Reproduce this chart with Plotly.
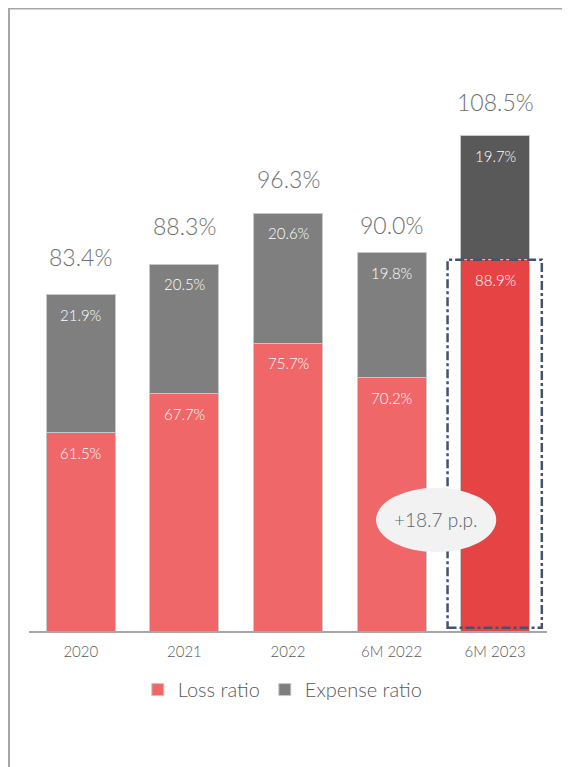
import plotly.graph_objects as go

categories = ["2020", "2021", "2022", "6M 2022", "6M 2023"]
loss_ratio = [61.5, 67.7, 75.7, 70.2, 88.9]
expense_ratio = [21.9, 20.5, 20.6, 19.8, 19.7]
combined_ratio = [83.4, 88.3, 96.3, 90.0, 108.5]
change_label = "+18.7 p.p."

loss_colors = ["#EF6769", "#EF6769", "#EF6769", "#EF6769", "#E64345"]
exp_colors = ["#7F7F7F", "#7F7F7F", "#7F7F7F", "#7F7F7F", "#595959"]
total_shift = [22, 22, 18, 12, 18]

FONT = "Lato"
W = 300

fig = go.Figure()
fig.add_trace(go.Bar(
    x=categories, y=loss_ratio, name="Loss ratio",
    marker=dict(color=loss_colors, line=dict(color="#C8C8C8", width=1)),
    hoverinfo="skip",
))
fig.add_trace(go.Bar(
    x=categories, y=expense_ratio, name="Expense ratio",
    marker=dict(color=exp_colors, line=dict(color="#C8C8C8", width=1)),
    hoverinfo="skip",
))

ann = []
for i, c in enumerate(categories):
    ann.append(dict(x=i, y=loss_ratio[i], text=f"{loss_ratio[i]:.1f}%", showarrow=False,
                    yanchor="top", yshift=-9,
                    font=dict(family=FONT, size=15, color="white", weight=W)))
    ann.append(dict(x=i, y=combined_ratio[i], text=f"{expense_ratio[i]:.1f}%", showarrow=False,
                    yanchor="top", yshift=-9,
                    font=dict(family=FONT, size=15, color="white", weight=W)))
    ann.append(dict(x=i, y=combined_ratio[i], text=f"{combined_ratio[i]:.1f}%", showarrow=False,
                    yanchor="bottom", yshift=total_shift[i],
                    font=dict(family=FONT, size=23, color="#707070", weight=W)))

# plot area: 518 x 601 px, origin at (21, 22) in figure px
shapes = [
    # dash-dot highlight box around 6M 2023 loss ratio
    dict(type="rect", xref="x", yref="y", x0=3.54, x1=4.45, y0=30.6, y1=loss_ratio[4],
         line=dict(color="#44546A", width=2.5, dash="dashdot"), layer="above"),
    # ellipse callout
    dict(type="circle", xref="x", yref="y", x0=2.85, x1=4.01, y0=42.6, y1=52.8,
         fillcolor="#F2F2F2", line=dict(width=0), layer="above"),
    # frame lines
    dict(type="line", xref="paper", yref="paper", x0=-0.0386, x1=-0.0386, y0=1.0358, y1=-0.3,
         line=dict(color="#A6A6A6", width=2)),
    dict(type="line", xref="paper", yref="paper", x0=-0.0405, x1=1.1, y0=1.0358, y1=1.0358,
         line=dict(color="#A6A6A6", width=2)),
]
ann.append(dict(x=3.43, y=47.7, xref="x", yref="y", text=change_label, showarrow=False,
                font=dict(family=FONT, size=19, color="#5A6270", weight=W)))

fig.update_layout(
    width=562, height=759,
    margin=dict(l=21, r=23, t=22, b=136),
    barmode="stack", bargap=0.334,
    plot_bgcolor="white", paper_bgcolor="white",
    showlegend=True,
    legend=dict(orientation="h", x=0.49, xanchor="center", y=-0.065, yanchor="top",
                font=dict(family=FONT, size=20, color="#595959", weight=W),
                traceorder="normal"),
    xaxis=dict(type="category", range=[-0.5, 4.5], showline=True, linecolor="#A6A6A6",
               linewidth=2, ticks="", ticklabelstandoff=6,
               tickfont=dict(family=FONT, size=15, color="#595959", weight=W), showgrid=False),
    yaxis=dict(visible=False, range=[30.1, 125.3], showgrid=False, zeroline=False),
    annotations=ann, shapes=shapes,
)

fig.write_html("out.html")
